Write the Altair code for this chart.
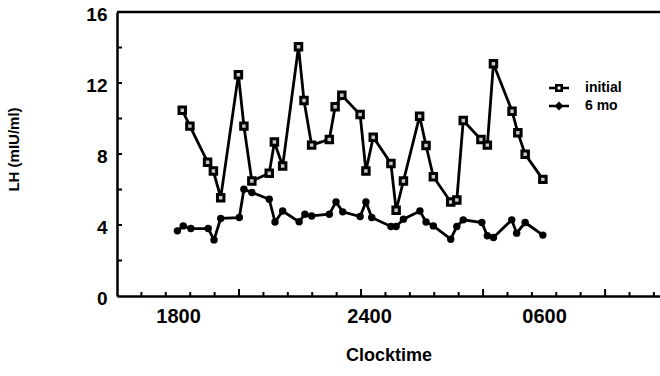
import altair as alt
import pandas as pd

# ---- data ----
series_names = ["initial", "6 mo"]

initial_hours = [18.14, 18.39, 18.97, 19.16, 19.40, 19.98, 20.16, 20.42, 20.99, 21.16,
                 21.43, 21.95, 22.13, 22.38, 22.96, 23.15, 23.37, 23.97, 24.16, 24.40,
                 24.98, 25.15, 25.39, 25.92, 26.13, 26.37, 26.94, 27.14, 27.35, 27.93,
                 28.14, 28.34, 28.95, 29.14, 29.38, 29.96]
initial_lh = [10.47, 9.57, 7.54, 7.04, 5.54, 12.47, 9.57, 6.48, 6.91, 8.67,
              7.32, 14.04, 11.01, 8.50, 8.82, 10.66, 11.31, 10.22, 7.04, 8.95,
              7.46, 4.83, 6.48, 10.13, 8.48, 6.72, 5.30, 5.41, 9.89, 8.82,
              8.50, 13.09, 10.41, 9.20, 7.98, 6.57]

mo6_hours = [17.98, 18.17, 18.42, 18.99, 19.18, 19.40, 20.01, 20.16, 20.42, 20.99,
             21.18, 21.43, 21.97, 22.16, 22.38, 22.96, 23.18, 23.40, 23.97, 24.16,
             24.35, 24.98, 25.15, 25.39, 25.93, 26.13, 26.37, 26.94, 27.14, 27.35,
             27.96, 28.14, 28.34, 28.94, 29.10, 29.38, 29.96]
mo6_lh = [3.67, 3.95, 3.80, 3.80, 3.16, 4.37, 4.42, 6.01, 5.83, 5.45,
          4.17, 4.79, 4.18, 4.61, 4.51, 4.61, 5.30, 4.74, 4.48, 5.30,
          4.42, 3.92, 3.92, 4.33, 4.79, 4.17, 3.95, 3.20, 3.92, 4.29,
          4.14, 3.39, 3.30, 4.29, 3.54, 4.14, 3.43]

x_label_values = [18, 24, 30]
x_label_texts = ["1800", "2400", "0600"]
x_minor_ticks = [16.8, 17.6, 18.4, 19.2, 20.8, 21.6, 22.4, 23.2, 24.8,
                 25.6, 26.4, 27.2, 28.8, 29.6, 30.4, 31.2, 32.8, 33.6]
x_major_ticks = [20, 24, 28, 32]
y_label_values = [0, 4, 8, 12, 16]
y_tick_values = [2, 4, 6, 8, 10, 12, 14]

df_init = pd.DataFrame({"hour": initial_hours, "lh": initial_lh, "series": series_names[0]})
df_6mo = pd.DataFrame({"hour": mo6_hours, "lh": mo6_lh, "series": series_names[1]})
df = pd.concat([df_init, df_6mo], ignore_index=True)

# ---- layout ----
W, H = 543, 284
FONT = "Liberation Sans"
X_DOMAIN = [16, 33.8]
Y_DOMAIN = [0, 16]

x_label_expr = " : ".join(
    f"datum.value == {v} ? '{t}'" for v, t in zip(x_label_values, x_label_texts)
) + " : ''"

x_main = alt.X(
    "hour:Q",
    scale=alt.Scale(domain=X_DOMAIN, nice=False, zero=False),
    axis=alt.Axis(
        values=x_label_values, labelExpr=x_label_expr, grid=False, ticks=False,
        domainColor="black", domainWidth=2.5,
        labelFont=FONT, labelFontSize=20, labelFontWeight="bold", labelColor="black",
        labelPadding=10,
        labelOffset={"condition": {"test": "datum.value == 24", "value": 8}, "value": 0},
        title="Clocktime", titleFont=FONT, titleFontSize=18, titleFontWeight="bold",
        titleColor="black", titlePadding=20,
    ),
)
y_main = alt.Y(
    "lh:Q",
    scale=alt.Scale(domain=Y_DOMAIN, nice=False),
    axis=alt.Axis(
        values=y_label_values, grid=False, ticks=False,
        domainColor="black", domainWidth=2.5,
        labelFont=FONT, labelFontSize=19, labelFontWeight="bold", labelColor="black",
        labelPadding=10, labelOffset=2,
        title="LH (mIU/ml)", titleFont=FONT, titleFontSize=15, titleFontWeight="bold",
        titleColor="black", titlePadding=64, titleY=137,
    ),
)

lines = alt.Chart(df).mark_line(color="black", strokeWidth=2.8).encode(
    x=x_main, y=y_main, detail="series:N"
)
pts_init = alt.Chart(df_init).mark_point(
    shape="square", filled=True, fill="#c8c8c8", stroke="black",
    strokeWidth=3, size=42, opacity=1
).encode(x=x_main, y=y_main)
pts_6mo = alt.Chart(df_6mo).mark_point(
    shape="circle", filled=True, color="black", size=55, opacity=1
).encode(x=x_main, y=y_main)

# inward-pointing tick marks on the frame (positions via the scales)
x_minor_rules = alt.Chart(pd.DataFrame({"hour": x_minor_ticks})).mark_rule(
    color="black", strokeWidth=2
).encode(x=x_main, y=alt.value(H), y2=alt.value(H - 4))
x_major_rules = alt.Chart(pd.DataFrame({"hour": x_major_ticks})).mark_rule(
    color="black", strokeWidth=2
).encode(x=x_main, y=alt.value(H), y2=alt.value(H - 7))
y_rules = alt.Chart(pd.DataFrame({"lh": y_tick_values})).mark_rule(
    color="black", strokeWidth=2
).encode(y=y_main, x=alt.value(0), x2=alt.value(5))

# top frame line
top_frame = alt.Chart(pd.DataFrame({"frame": [0]})).mark_rule(
    color="black", strokeWidth=2.5
).encode(x=alt.value(0), x2=alt.value(W), y=alt.value(0))

path_initial = ("M-1,-0.13H-0.4V0.13H-1Z M0.4,-0.13H1V0.13H0.4Z "
                "M-0.4,-0.4H0.4V0.4H-0.4Z M-0.14,-0.14V0.14H0.14V-0.14Z")
path_6mo = "M-1,-0.13H1V0.13H-1Z M0,-0.45L0.45,0L0,0.45L-0.45,0Z"

legend_layer = alt.Chart(df).mark_point(filled=True, opacity=0, color="black").encode(
    x=x_main, y=y_main,
    shape=alt.Shape(
        "series:N",
        scale=alt.Scale(domain=series_names, range=[path_initial, path_6mo]),
        legend=alt.Legend(
            title=None, orient="none", legendX=432, legendY=66, padding=0,
            symbolSize=400, symbolFillColor="black", symbolStrokeColor="black",
            symbolStrokeWidth=0, symbolOpacity=1,
            labelFont=FONT, labelFontSize=14, labelFontWeight="bold", labelColor="black",
            labelOffset=16, rowPadding=1,
        ),
    ),
)

chart = (
    alt.layer(lines, pts_init, pts_6mo, x_minor_rules, x_major_rules, y_rules,
              top_frame, legend_layer)
    .properties(
        width=W, height=H,
        autosize=alt.AutoSizeParams(type="none"),
        padding={"left": 117, "top": 12, "right": 0, "bottom": 80},
        background="white",
    )
    .configure_view(stroke=None)
)

chart.save("out.html", embed_options={"renderer": "svg", "actions": False})
